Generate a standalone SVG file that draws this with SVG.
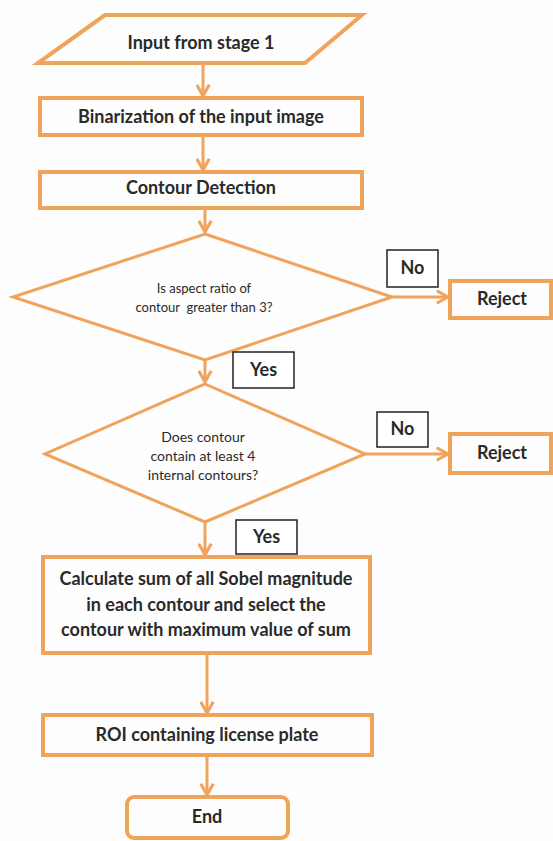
<svg xmlns="http://www.w3.org/2000/svg" width="553" height="841" viewBox="0 0 553 841">
<defs>
<style>
.shape{fill:#fefefe;stroke:#F0A35A;stroke-width:4}
.dia{fill:#fefefe;stroke:#F0A35A;stroke-width:3}
.lbl{fill:#fff;stroke:#222;stroke-width:1.5}
.t{font-family:Lato,"Liberation Sans",sans-serif;font-weight:bold;font-size:18px;fill:#2a2a2a;text-anchor:middle}
.s{font-family:Lato,"Liberation Sans",sans-serif;font-size:13px;fill:#2a2a2a;text-anchor:middle}
.s2{font-family:Lato,"Liberation Sans",sans-serif;font-size:14px;fill:#2a2a2a;text-anchor:middle}
.c{stroke:#F0A35A;stroke-width:3;fill:none;marker-end:url(#ah)}
</style>
<marker id="ah" viewBox="0 0 12 12" refX="10" refY="6" markerWidth="5" markerHeight="5" orient="auto" markerUnits="strokeWidth">
<path d="M1,1 L10,6 L1,11" fill="none" stroke="#F0A35A" stroke-width="2.5"/>
</marker>
</defs>
<rect width="553" height="841" fill="#fdfdfd"/>
<g id="connectors">
<line class="c" x1="203" y1="64" x2="203" y2="96"/>
<line class="c" x1="203" y1="136" x2="203" y2="170"/>
<line class="c" x1="205" y1="209" x2="205" y2="232"/>
<line class="c" x1="392" y1="297" x2="448" y2="297"/>
<line class="c" x1="205" y1="360" x2="205" y2="382"/>
<line class="c" x1="365" y1="454" x2="448" y2="454"/>
<line class="c" x1="205" y1="522" x2="205" y2="555"/>
<line class="c" x1="207" y1="654" x2="207" y2="713"/>
<line class="c" x1="207" y1="756" x2="207" y2="795"/>
</g>
<g id="input">
<polygon class="shape" points="105,15 362,15 305,63 38,63"/>
<text class="t" x="201" y="49">Input from stage 1</text>
</g>
<g id="binarization">
<rect class="shape" x="40" y="98" width="322" height="37"/>
<text class="t" x="201" y="123">Binarization of the input image</text>
</g>
<g id="contour-detection">
<rect class="shape" x="40" y="172" width="322" height="36"/>
<text class="t" x="201" y="194">Contour Detection</text>
</g>
<g id="decision-aspect">
<polygon class="dia" points="205,234 392,297 205,360 13,297"/>
<text class="s" x="204" y="293">Is aspect ratio of</text>
<text class="s" x="204" y="312" xml:space="preserve">contour  greater than 3?</text>
</g>
<g id="no1">
<rect class="lbl" x="387" y="250" width="51" height="37"/>
<text class="t" x="412.5" y="274">No</text>
</g>
<g id="reject1">
<rect class="shape" x="450" y="281" width="101" height="37"/>
<text class="t" x="502" y="305">Reject</text>
</g>
<g id="yes1">
<rect class="lbl" x="233" y="352" width="61" height="36"/>
<text class="t" x="263.5" y="376">Yes</text>
</g>
<g id="decision-internal">
<polygon class="dia" points="205,384 365,454 205,522 45,454"/>
<text class="s2" x="203" y="442">Does contour</text>
<text class="s2" x="203" y="461">contain at least 4</text>
<text class="s2" x="203" y="480">internal contours?</text>
</g>
<g id="no2">
<rect class="lbl" x="377" y="412" width="51" height="35"/>
<text class="t" x="402.5" y="435">No</text>
</g>
<g id="reject2">
<rect class="shape" x="450" y="434" width="101" height="39"/>
<text class="t" x="502" y="459">Reject</text>
</g>
<g id="yes2">
<rect class="lbl" x="236" y="520" width="61" height="34"/>
<text class="t" x="266.5" y="543">Yes</text>
</g>
<g id="sobel">
<rect class="shape" x="43" y="557" width="327" height="96"/>
<text class="t" x="206" y="585">Calculate sum of all Sobel magnitude</text>
<text class="t" x="206" y="611">in each contour and select the</text>
<text class="t" x="206" y="636">contour with maximum value of sum</text>
</g>
<g id="roi">
<rect class="shape" x="43" y="715" width="329" height="40"/>
<text class="t" x="207" y="741">ROI containing license plate</text>
</g>
<g id="end">
<rect class="shape" x="127" y="797" width="161" height="41" rx="7"/>
<text class="t" x="207" y="823">End</text>
</g>
</svg>
